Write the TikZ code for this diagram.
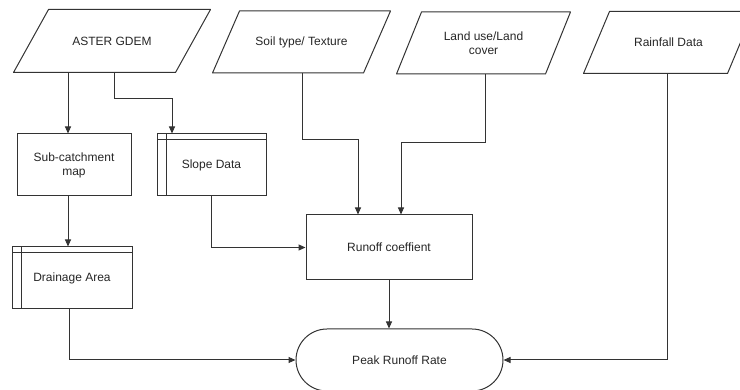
\documentclass[tikz,border=0pt]{standalone}
\usepackage{fontspec}
\setmainfont{Liberation Sans}
\usetikzlibrary{shapes.misc,arrows.meta}

\begin{document}
\begin{tikzpicture}[x=1pt, y=-1pt,
  every node/.style={draw=black!80, line width=1pt, text=black!85, align=center, inner sep=0pt, font=\fontsize{12}{14}\selectfont},
  datain/.style={rectangle, draw=none, minimum height=61, append after command={\pgfextra{
    \draw[black!80, line width=1pt, line join=round] ([xshift=#1]\tikzlastnode.north west) -- ([xshift=#1]\tikzlastnode.north east)
      -- ([xshift=-#1]\tikzlastnode.south east) -- ([xshift=-#1]\tikzlastnode.south west) -- cycle;}}},
  datain/.default=13,
  procbox/.style={rectangle},
  storebox/.style={rectangle, path picture={
    \draw[black!80, line width=1pt] ([xshift=9]path picture bounding box.north west) -- ([xshift=9]path picture bounding box.south west);
    \draw[black!80, line width=1pt] ([yshift=-6]path picture bounding box.north west) -- ([yshift=-6]path picture bounding box.north east);}},
  endbox/.style={rounded rectangle},
  flow/.style={draw=black!80, line width=1pt, -{Triangle[length=7pt, width=6pt]}}]
\clip (0,0) rectangle (740,390);

\node[datain=17.5, minimum width=161, minimum height=62] (aster) at (112,41) {ASTER GDEM};
\node[datain=13.5, minimum width=150] (soil) at (301.5,42) {Soil type/ Texture};
\node[datain=12.5, minimum width=148] (land) at (483.5,43) {Land use/Land\\cover};
\node[datain, minimum width=143] (rain) at (668.5,42.5) {Rainfall Data};

\node[procbox, minimum width=114, minimum height=62] (sub) at (74,165) {Sub-catchment\\map};
\node[storebox, minimum width=109, minimum height=62] (slope) at (211.5,165) {Slope Data};
\node[storebox, minimum width=120, minimum height=62] (drain) at (72,278) {Drainage Area};
\node[procbox, minimum width=166, minimum height=65] (runoff) at (389,247.5) {Runoff coeffient};
\node[endbox, minimum width=207, minimum height=62] (peak) at (399.5,360) {Peak Runoff Rate};

\draw[flow] ([xshift=-44]aster.south) -- ([xshift=-6]sub.north);
\draw[flow] ([xshift=2]aster.south) -- ++(0,26) -| ([xshift=-39.5]slope.north);
\draw[flow] ([xshift=0.5]soil.south) -- ++(0,67) -| ([xshift=-31]runoff.north);
\draw[flow] ([xshift=1.5]land.south) -- ++(0,69) -| ([xshift=12]runoff.north);
\draw[flow] ([xshift=-1.5]rain.south) |- (peak.east);
\draw[flow] ([xshift=-6]sub.south) -- ([xshift=-4]drain.north);
\draw[flow] (slope.south) |- (runoff.west);
\draw[flow] (runoff.south) -- (runoff.south |- peak.north);
\draw[flow] ([xshift=-3]drain.south) |- (peak.west);
\end{tikzpicture}
\end{document}
